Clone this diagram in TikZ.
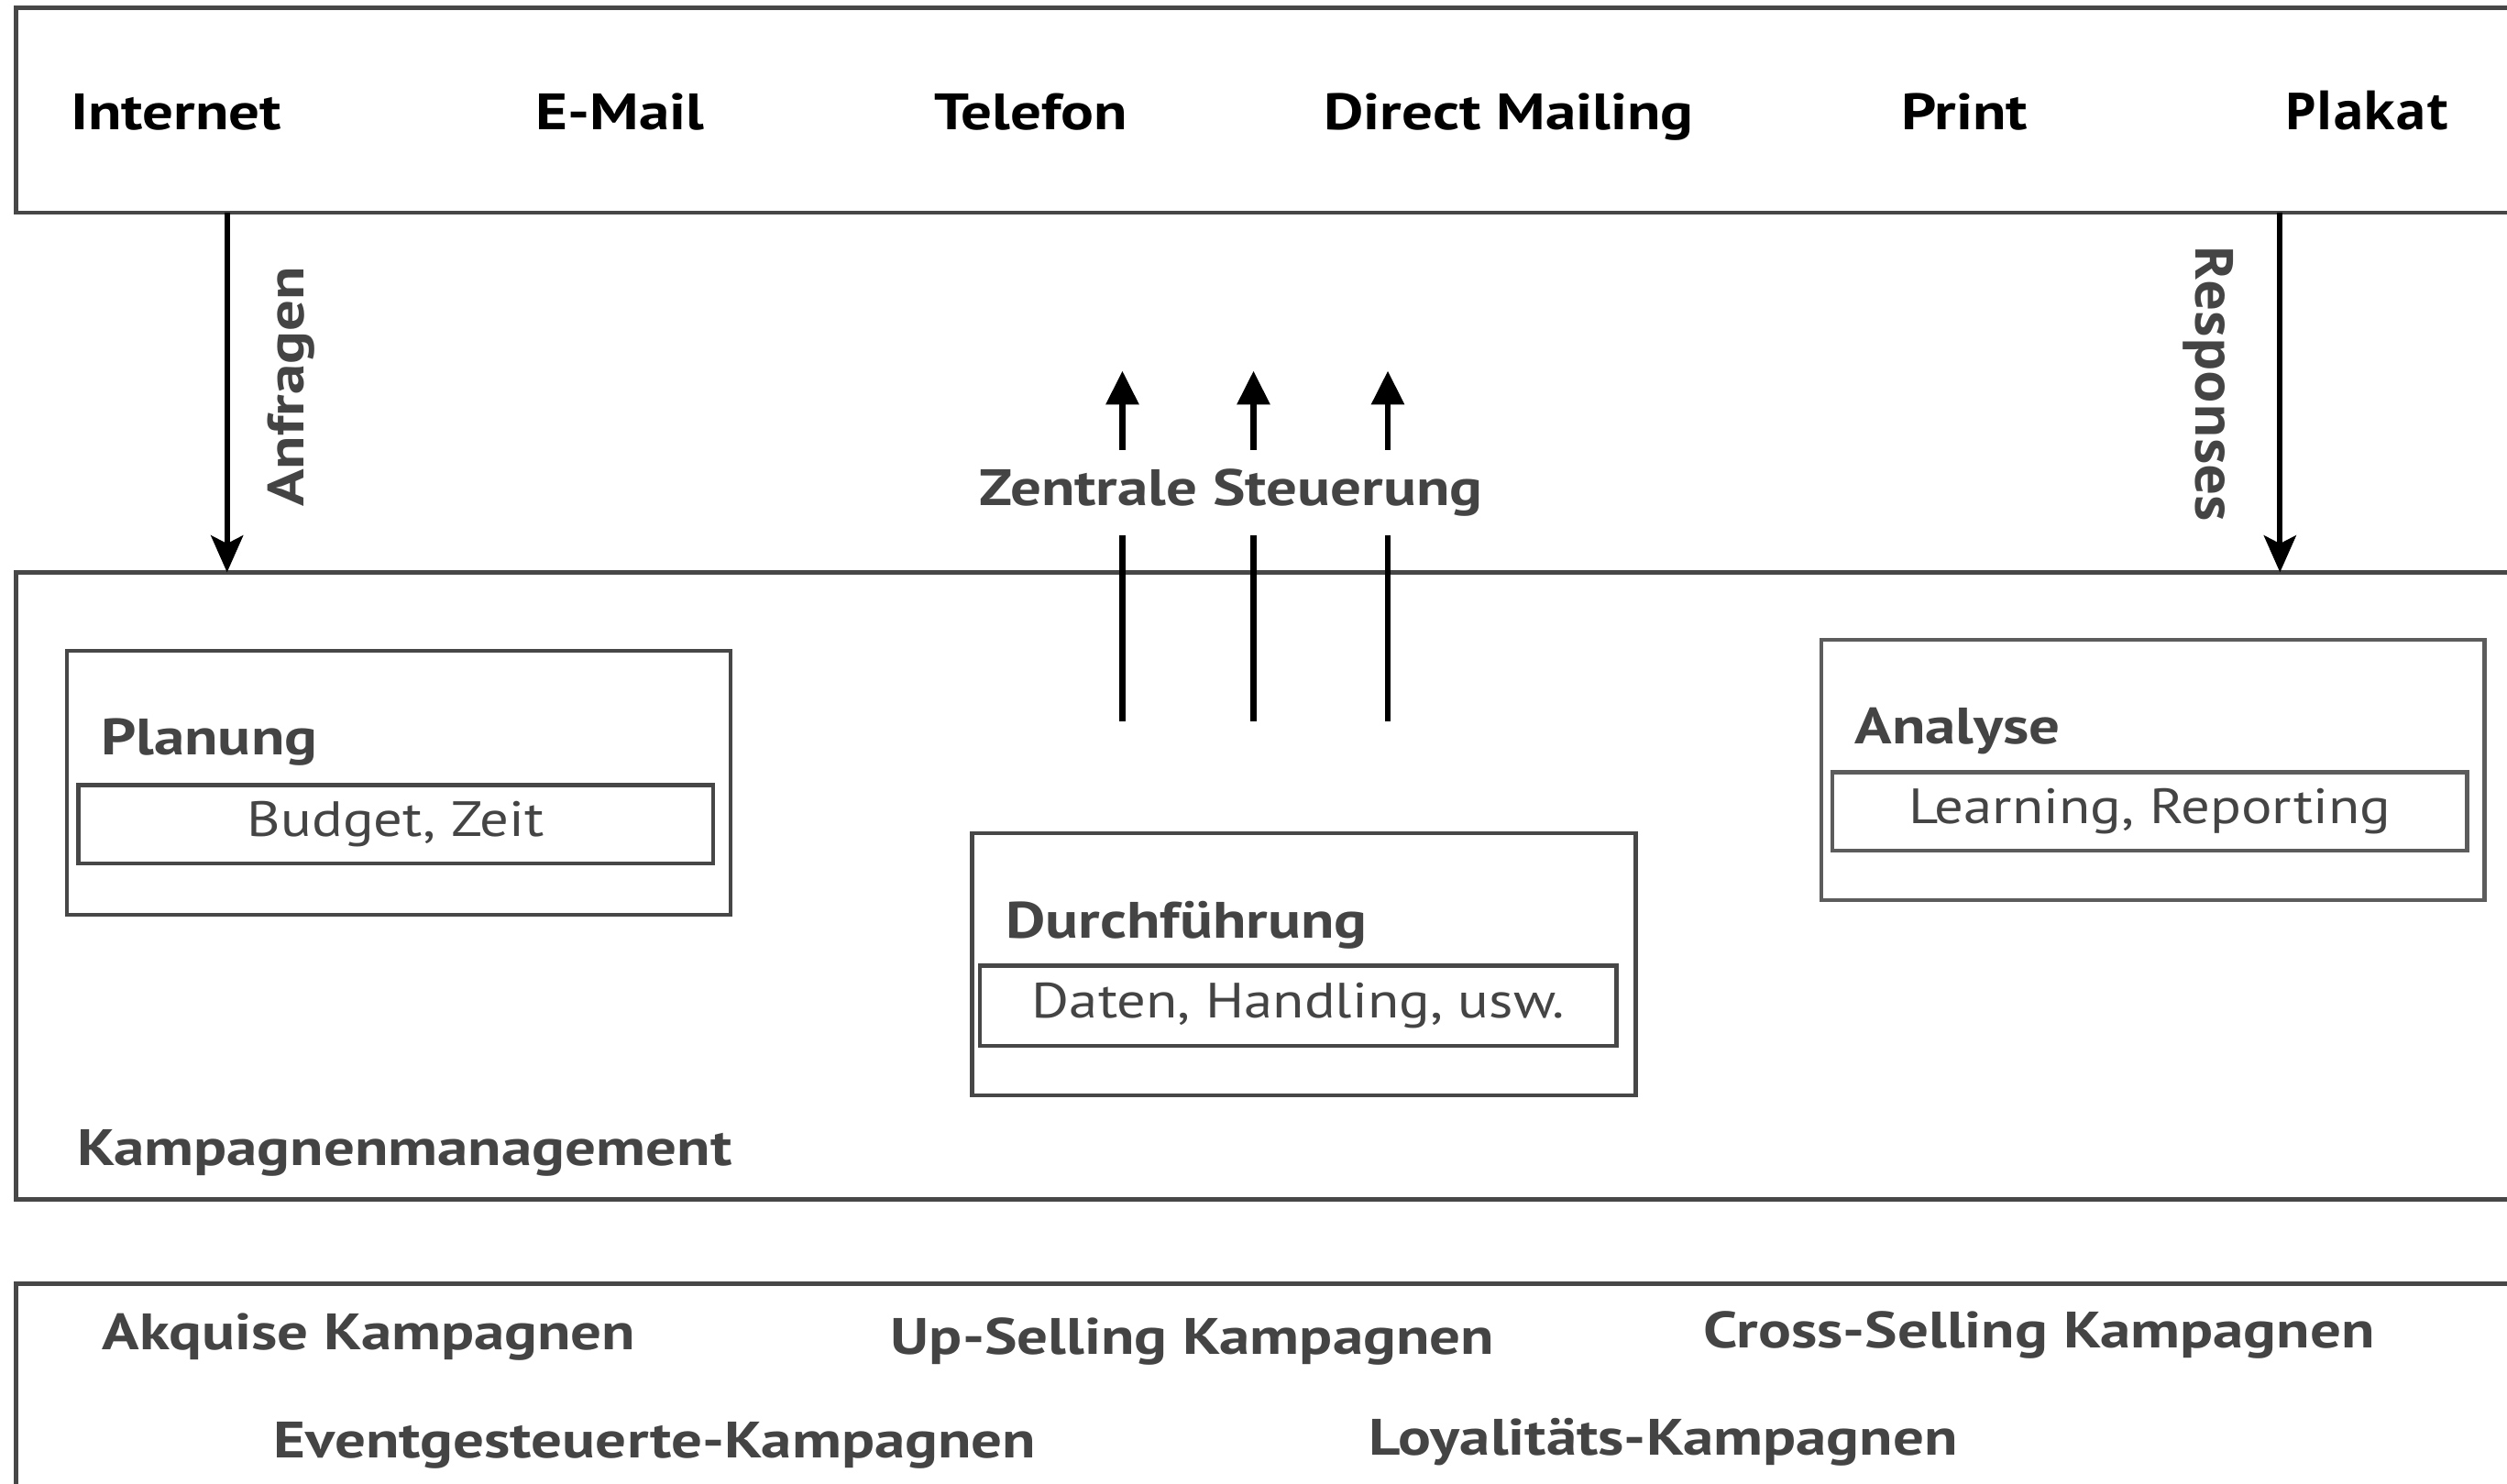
\documentclass[tikz,border=0pt]{standalone}
\usepackage{fontspec}
\setmainfont{PT Sans}[FakeStretch=1.16, BoldFeatures={FakeStretch=1.2}]
\newfontfamily\wide{Open Sans}
\usetikzlibrary{arrows.meta}
\definecolor{ink}{HTML}{444444}
\definecolor{frame}{HTML}{474747}
\definecolor{framelt}{HTML}{5C5C5C}
\begin{document}
\begin{tikzpicture}[x=1pt,y=-1pt,
  frame/.style={draw=frame, line width=2.7pt, anchor=north west, inner sep=0pt, outer sep=0pt},
  stage/.style={draw=#1, line width=2.5pt, anchor=north west, inner sep=0pt, outer sep=0pt},
  detail/.style={draw=#1, line width=2.5pt, anchor=north west, inner sep=0pt, outer sep=0pt,
    text=ink, font=\fontsize{31}{36}\selectfont},
  channel/.style={anchor=base west, inner sep=0pt, text=black, font=\bfseries\fontsize{32}{38}\selectfont},
  title/.style={anchor=base west, inner sep=0pt, text=ink, font=\bfseries\fontsize{32}{38}\selectfont},
  flow/.style={line width=3.6pt, -{Stealth[length=23pt,width=20pt,inset=5pt]}},
  ctrl/.style={line width=3.6pt},
  ctrltip/.style={line width=3.6pt, -{Triangle[length=21pt,width=20pt]}}]
\useasboundingbox (0,0) rectangle (1568,928);
\clip (0,0) rectangle (1568,928);

% channel bar
\node[frame, minimum width=1600pt, minimum height=128pt] (chan) at (10,5) {};
\node[channel] (internet) at (44,81) {Internet};
\node[channel] (email) at (335,81) {E-Mail};
\node[channel] (telefon) at (584,81) {Telefon};
\node[channel] (dm) at (828,81) {Direct Mailing};
\node[channel] (print) at (1189,81) {Print};
\node[channel, font=\wide\bfseries\fontsize{32}{38}\selectfont] (plakat) at (1429,81) {Plakat};

% campaign management
\node[frame, minimum width=1600pt, minimum height=392pt] (mgmt) at (10,358) {};
\node[title] (mgmtlbl) at (48,729) {Kampagnenmanagement};

\node[stage=frame, minimum width=415pt, minimum height=165pt] (plan) at (42,407) {};
\node[title] (planlbl) at (63,472) {Planung};
\node[detail=frame, minimum width=397pt, minimum height=49pt] (plandet) at (49,491) {Budget, Zeit};

\node[stage=frame, minimum width=415pt, minimum height=164pt] (exec) at (608,521) {};
\node[title] (execlbl) at (629,587) {Durchführung};
\node[detail=frame, minimum width=398pt, minimum height=50pt] (execdet) at (613,604) {Daten, Handling, usw.};

\node[stage=framelt, minimum width=415pt, minimum height=163pt] (ana) at (1139,400) {};
\node[title] (analbl) at (1160,465) {Analyse};
\node[detail=framelt, minimum width=397pt, minimum height=49pt] (anadet) at (1146,483) {Learning, Reporting};

% requests and responses
\coordinate (qx) at (142,0);
\coordinate (rx) at (1426,0);
\draw[flow] (chan.south -| qx) -- (mgmt.north -| qx);
\draw[flow] (chan.south -| rx) -- (mgmt.north -| rx);
\node[rotate=90, inner sep=0pt, text=ink, font=\bfseries\fontsize{32}{38}\selectfont] (anfr) at (182,242) {Anfragen};
\node[rotate=-90, inner sep=0pt, text=ink, font=\wide\bfseries\fontsize{33}{38}\selectfont] (resp) at (1381,240) {Responses};

% central control
\node[inner sep=0pt, minimum width=330pt, minimum height=53pt, text=ink,
      font=\bfseries\fontsize{32}{38}\selectfont] (zs) at (770,308) {Zentrale Steuerung};
\foreach \i/\x in {1/702, 2/784, 3/868} {
  \coordinate (cb\i) at (\x,451);
  \coordinate (ct\i) at (\x,232);
  \draw[ctrl] (cb\i) -- (cb\i |- zs.south);
  \draw[ctrltip] (ct\i |- zs.north) -- (ct\i);
}

% campaign types
\node[frame, minimum width=1600pt, minimum height=200pt] (types) at (10,803) {};
\node[title] (akq) at (64,844) {Akquise Kampagnen};
\node[title] (ups) at (557,847) {Up-Selling Kampagnen};
\node[title] (crs) at (1065,843) {Cross-Selling Kampagnen};
\node[title] (evt) at (171,912) {Eventgesteuerte-Kampagnen};
\node[title] (loy) at (856,910) {Loyalitäts-Kampagnen};
\end{tikzpicture}
\end{document}
